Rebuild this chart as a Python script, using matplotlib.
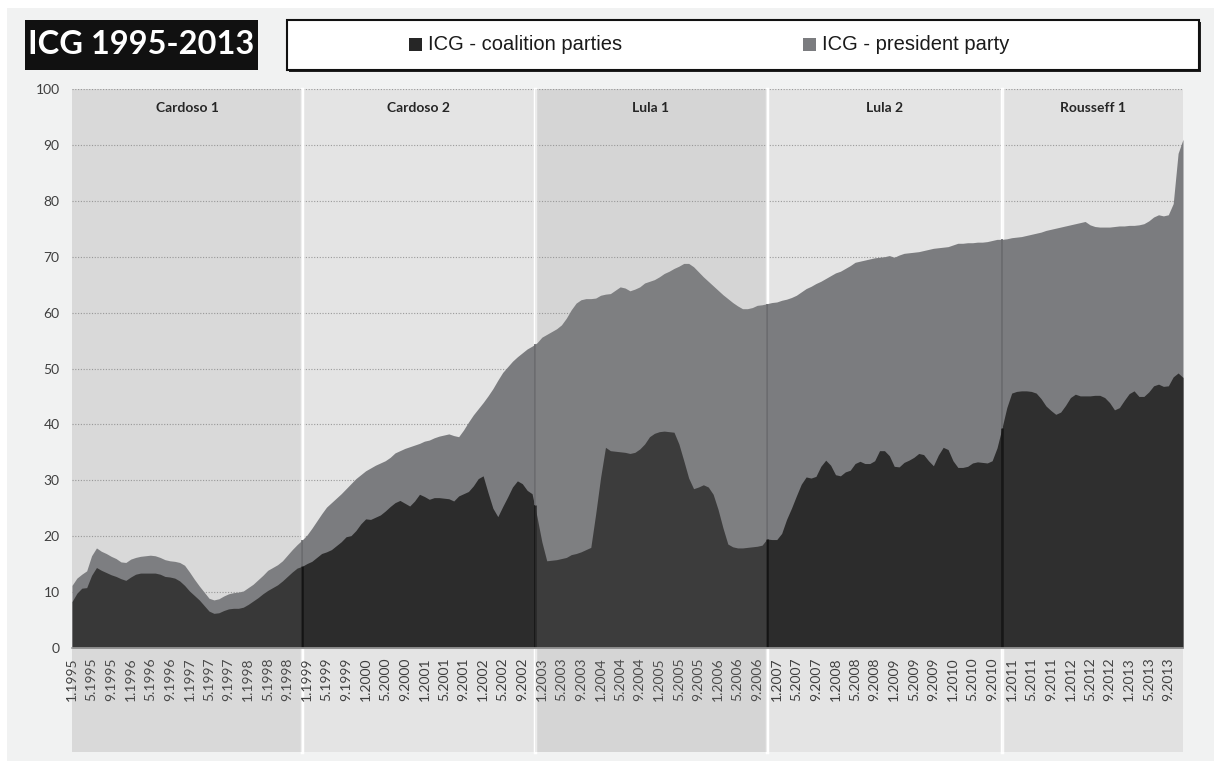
import numpy as np
import matplotlib.pyplot as plt
from matplotlib.patches import Rectangle

plt.rcParams['font.family'] = ['Lato', 'DejaVu Sans']

terms = ['Cardoso 1', 'Cardoso 2', 'Lula 1', 'Lula 2', 'Rousseff 1']
# term boundaries in month index, as drawn in the picture
term_edges = [0, 47, 94.5, 142, 190, 227]
years = list(range(1995, 2014))
label_months = [1, 5, 9]

# monthly values, 1.1995 .. 12.2013 (12 per row)
coalition = [
    8.3, 9.8, 10.7, 10.8, 13.0, 14.4, 13.9, 13.5, 13.1, 12.8, 12.4, 12.1,
    12.7, 13.2, 13.4, 13.4, 13.4, 13.4, 13.2, 12.8, 12.7, 12.5, 12.0, 11.2,
    10.2, 9.4, 8.6, 7.6, 6.6, 6.2, 6.3, 6.7, 7.0, 7.1, 7.1, 7.3,
    7.8, 8.4, 9.0, 9.7, 10.3, 10.8, 11.3, 12.0, 12.8, 13.6, 14.3, 14.6,
    15.1, 15.5, 16.2, 16.9, 17.2, 17.6, 18.3, 19.0, 19.9, 20.1, 21.0, 22.2,
    23.1, 23.0, 23.4, 23.8, 24.5, 25.3, 26.0, 26.4, 25.9, 25.4, 26.3, 27.5,
    27.1, 26.6, 26.9, 26.9, 26.8, 26.7, 26.3, 27.2, 27.6, 28.0, 29.0, 30.3,
    30.8, 27.8, 25.0, 23.5, 25.3, 27.0, 28.8, 29.9, 29.4, 28.2, 27.6, 23.5,
    19.0, 15.6, 15.7, 15.8, 16.0, 16.2, 16.7, 16.9, 17.2, 17.6, 18.0, 24.0,
    30.5, 35.9, 35.3, 35.2, 35.1, 35.0, 34.8, 35.0, 35.6, 36.5, 37.8, 38.4,
    38.7, 38.8, 38.7, 38.6, 36.5, 33.5, 30.4, 28.5, 28.8, 29.2, 28.8, 27.5,
    24.8, 21.5, 18.6, 18.1, 17.9, 17.9, 18.0, 18.1, 18.2, 18.4, 19.5, 19.4,
    19.4, 20.5, 23.0, 25.0, 27.2, 29.3, 30.6, 30.4, 30.7, 32.5, 33.6, 32.7,
    31.0, 30.8, 31.5, 31.8, 33.0, 33.4, 33.0, 33.0, 33.5, 35.3, 35.3, 34.4,
    32.5, 32.4, 33.2, 33.6, 34.1, 34.8, 34.6, 33.5, 32.6, 34.5, 35.9, 35.5,
    33.5, 32.3, 32.3, 32.5, 33.1, 33.3, 33.2, 33.1, 33.5, 35.8, 39.3, 43.0,
    45.6, 45.9, 46.0, 46.0, 45.9, 45.6, 44.6, 43.3, 42.5, 41.8, 42.2, 43.4,
    44.8, 45.4, 45.1, 45.1, 45.1, 45.2, 45.2, 44.8, 43.9, 42.6, 43.0, 44.3,
    45.5, 46.0, 45.0, 45.0, 45.8, 46.9, 47.2, 46.8, 46.9, 48.5, 49.2, 48.4,
]
president = [
    11.2, 12.5, 13.2, 13.8, 16.5, 17.9, 17.3, 16.9, 16.4, 16.0, 15.4, 15.3,
    15.9, 16.2, 16.4, 16.5, 16.6, 16.5, 16.2, 15.8, 15.6, 15.5, 15.3, 14.8,
    13.6, 12.3, 11.1, 10.0, 8.9, 8.6, 8.8, 9.3, 9.7, 9.9, 10.0, 10.2,
    10.8, 11.4, 12.2, 13.0, 13.9, 14.4, 14.9, 15.6, 16.6, 17.6, 18.5, 19.3,
    20.2, 21.4, 22.7, 24.0, 25.2, 26.0, 26.8, 27.6, 28.5, 29.4, 30.3, 31.0,
    31.7, 32.2, 32.7, 33.1, 33.5, 34.1, 34.9, 35.3, 35.7, 36.0, 36.3, 36.6,
    37.0, 37.2, 37.6, 37.9, 38.1, 38.3, 38.0, 37.8, 39.0, 40.4, 41.7, 42.8,
    43.9, 45.1, 46.4, 47.9, 49.3, 50.3, 51.3, 52.1, 52.8, 53.5, 54.0, 54.6,
    55.6, 56.1, 56.6, 57.1, 57.8, 59.0, 60.5, 61.7, 62.3, 62.5, 62.5, 62.6,
    63.1, 63.3, 63.4, 64.0, 64.6, 64.4, 63.9, 64.2, 64.6, 65.3, 65.6, 65.9,
    66.4, 67.0, 67.4, 67.9, 68.3, 68.8, 68.8, 68.2, 67.3, 66.4, 65.6, 64.8,
    64.0, 63.2, 62.5, 61.8, 61.2, 60.7, 60.7, 60.9, 61.3, 61.4, 61.6, 61.8,
    61.9, 62.2, 62.4, 62.7, 63.1, 63.7, 64.3, 64.7, 65.2, 65.6, 66.1, 66.6,
    67.1, 67.4, 67.9, 68.4, 69.0, 69.2, 69.4, 69.6, 69.8, 69.9, 70.0, 70.2,
    69.9, 70.3, 70.6, 70.7, 70.8, 70.9, 71.1, 71.3, 71.5, 71.6, 71.7, 71.8,
    72.1, 72.4, 72.4, 72.5, 72.5, 72.6, 72.6, 72.7, 72.9, 73.1, 73.1, 73.2,
    73.4, 73.5, 73.6, 73.8, 74.0, 74.2, 74.4, 74.7, 74.9, 75.1, 75.3, 75.5,
    75.7, 75.9, 76.1, 76.3, 75.7, 75.4, 75.3, 75.3, 75.3, 75.4, 75.5, 75.5,
    75.6, 75.6, 75.7, 75.9, 76.4, 77.1, 77.5, 77.3, 77.5, 79.5, 88.5, 91.0,
]

W, H = 1214, 761
fig = plt.figure(figsize=(W / 100, H / 100), dpi=100)
fig.patch.set_facecolor('white')
fig.add_artist(Rectangle((7 / W, 0), 1 - 7 / W, 1 - 8 / H, transform=fig.transFigure,
                         facecolor='#f1f2f2', edgecolor='none', zorder=-10))

ax = fig.add_axes([72 / W, (H - 648) / H, 1111 / W, 559 / H])
ax.set_facecolor('none')
x = np.arange(len(coalition))
ax.set_xlim(0, len(coalition) - 1)
ax.set_ylim(0, 100)

below = -104 / 559  # bands continue under the tick labels
shade = [0.13, 0.0, 0.17, 0.0, 0.03]
for k, name in enumerate(terms):
    a, b = term_edges[k], term_edges[k + 1]
    ax.axvspan(a, b, ymin=below, ymax=1, facecolor='#e4e4e4', edgecolor='none',
               clip_on=False, zorder=0)
    if shade[k] > 0:
        ax.axvspan(a, b, ymin=below, ymax=1, facecolor='#8f8f8f', alpha=shade[k],
                   edgecolor='none', clip_on=False, zorder=5)
    ax.text((a + b) / 2, 96.6, name, ha='center', va='center', fontsize=10,
            fontweight='bold', color='#262626', zorder=7)

for v in range(10, 101, 10):
    ax.axhline(v, color='#9a9a9a', lw=0.8, ls=(0, (1, 1.5)), zorder=1)

ax.fill_between(x, 0, president, color='#7b7c7f', lw=0, zorder=2)
ax.fill_between(x, 0, coalition, color='#2c2c2c', lw=0, zorder=3)

for e in term_edges[1:-1]:
    ax.axvline(e, ymin=below, ymax=1, color='white', lw=2.5, zorder=1, clip_on=False)
    c_at = np.interp(e, x, coalition)
    p_at = np.interp(e, x, president)
    ax.vlines(e, 0, c_at, color='#141414', lw=1.8, zorder=4)
    ax.vlines(e, c_at, p_at, color='#68696c', lw=1.2, zorder=4)

ax.axhline(0, color='#9c9c9c', lw=1.2, zorder=6, clip_on=False)

for s in ax.spines.values():
    s.set_visible(False)

ticks = [(y - years[0]) * 12 + m - 1 for y in years for m in label_months]
tick_labels = [f'{m}.{y}' for y in years for m in label_months]
ax.set_xticks(ticks)
ax.set_xticklabels(tick_labels, rotation=90, fontsize=10, color='#3f3f3f')
ax.set_yticks(range(0, 101, 10))
ax.set_yticklabels([str(v) for v in range(0, 101, 10)], fontsize=10, color='#3f3f3f')
ax.tick_params(axis='x', length=0, pad=7)
ax.tick_params(axis='y', length=0, pad=9)

# title box
fig.add_artist(Rectangle((25 / W, 1 - 70 / H), 233 / W, 50 / H, transform=fig.transFigure,
                         facecolor='#111111', edgecolor='none'))
fig.text(141 / W, 1 - 45 / H, 'ICG 1995-2013', color='white', fontsize=23.5,
         fontweight='bold', ha='center', va='center')

# legend box
fig.add_artist(Rectangle((289 / W, 1 - 72 / H), 912 / W, 50 / H, transform=fig.transFigure,
                         facecolor='#222222', edgecolor='none'))
fig.add_artist(Rectangle((287 / W, 1 - 70 / H), 912 / W, 50 / H, transform=fig.transFigure,
                         facecolor='white', edgecolor='#111111', lw=1.5))
legend_items = [('ICG - coalition parties', '#262626', 409),
                ('ICG - president party', '#7b7c7f', 803)]
for label, col, px in legend_items:
    fig.add_artist(Rectangle((px / W, 1 - 51 / H), 13 / W, 13 / H, transform=fig.transFigure,
                             facecolor=col, edgecolor='none'))
    fig.text((px + 19) / W, 1 - 44 / H, label, fontsize=14.5, color='#1a1a1a',
             ha='left', va='center', family=['Liberation Sans', 'DejaVu Sans'])

fig.savefig('out.png', dpi=100, facecolor=fig.get_facecolor())
